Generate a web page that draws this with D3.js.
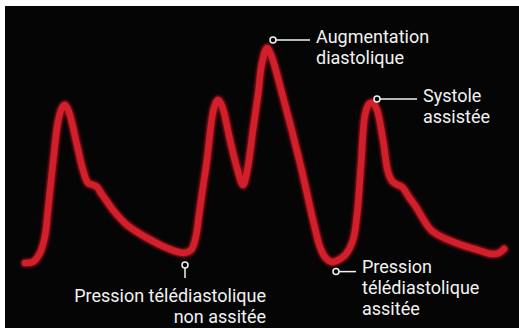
<!DOCTYPE html>
<html><head><meta charset="utf-8">
<script src="https://cdn.jsdelivr.net/npm/d3@7"></script>
<style>html,body{margin:0;padding:0;background:#fff;}svg{display:block;}</style>
</head><body>
<script>
// Time (ms) and pressure (mmHg) samples
const time = [0,40,75,100,115,140,165,185,200,220,260,290,315,340,360,380,405,440,510,610,710,790,830,855,870,890,910,930,945,965,985,1025,1060,1090,1110,1140,1165,1185,1210,1230,1290,1375,1440,1475,1500,1535,1575,1605,1640,1660,1680,1700,1720,1740,1760,1790,1815,1835,1855,1885,1920,1955,2035,2170,2265,2335,2370,2395];
const pressure = [40.9,41.4,45.5,53.2,65.0,86.4,105.0,111.4,112.7,109.5,94.5,83.2,77.3,76.4,75.5,72.7,69.5,65.0,58.2,52.3,47.7,45.5,46.8,53.2,62.7,75.5,87.7,103.6,111.4,115.0,112.3,96.8,84.1,76.4,82.3,101.4,117.3,131.8,138.6,135.5,116.4,86.4,60.5,48.2,43.6,41.4,42.7,45.0,51.4,62.7,85.5,108.2,113.2,113.6,110.5,96.8,82.3,78.2,76.8,75.5,70.9,66.4,55.5,49.5,46.8,45.0,45.5,47.3];

// Annotations: anchor point (time, pressure), label lines, side
const annLabels = [["Augmentation","diastolique"],["Systole","assistée"],["Pression télédiastolique","non assitée"],["Pression","télédiastolique","assitée"]];
const annTime = [1240, 1760, 800, 1555];
const annPressure = [142.3, 115.5, 40.0, 37.0];
const annSide = ["right","right","below","right"];

const W = 519, H = 328;
const x = d3.scaleLinear().domain([0, 2400]).range([25, 505]);
const y = d3.scaleLinear().domain([40, 140]).range([265, 45]);

const svg = d3.select("body").append("svg").attr("width", W).attr("height", H);
svg.append("rect").attr("x",0).attr("y",0).attr("width",W).attr("height",H).attr("fill","#fff");
svg.append("rect").attr("x",5).attr("y",6).attr("width",W-5).attr("height",H-6).attr("fill","#050505");

const pts = time.map((t,i)=>[t, pressure[i]]);
const line = d3.line().x(d=>x(d[0])).y(d=>y(d[1])).curve(d3.curveCatmullRom.alpha(0.5));

const defs = svg.append("defs");
defs.append("filter").attr("id","blur").append("feGaussianBlur").attr("stdDeviation",1.2);

svg.append("path").attr("d", line(pts)).attr("fill","none")
  .attr("stroke","#7d0c14").attr("stroke-width",9.5).attr("stroke-linecap","round").attr("stroke-linejoin","round")
  .attr("filter","url(#blur)");
svg.append("path").attr("d", line(pts)).attr("fill","none")
  .attr("stroke","#d11f2b").attr("stroke-width",6.5).attr("stroke-linecap","round").attr("stroke-linejoin","round");

const fontSize = 18, lh = 21;
const g = svg.append("g").attr("font-family","Roboto, 'Noto Sans', sans-serif").attr("font-size",fontSize).attr("fill","#f2f2f2");

annLabels.forEach((lines,i)=>{
  const cx = x(annTime[i]), cy = y(annPressure[i]);
  if (annSide[i] === "right") {
    const lineLen = i===0 ? 34 : (i===1 ? 37 : 17);
    svg.append("line").attr("x1",cx+3).attr("y1",cy).attr("x2",cx+3+lineLen).attr("y2",cy)
      .attr("stroke","#f2f2f2").attr("stroke-width",1.5);
    const tx = cx + 3 + lineLen + 6;
    const t = g.append("text").attr("x",tx).attr("y",cy);
    lines.forEach((s,k)=>{
      t.append("tspan").attr("x",tx).attr("dy", k===0 ? "0.32em" : lh).text(s);
    });
    t.attr("transform", `translate(0,${i===3? -4 : -3})`);
  } else {
    svg.append("line").attr("x1",cx).attr("y1",cy+3).attr("x2",cx).attr("y2",cy+13)
      .attr("stroke","#f2f2f2").attr("stroke-width",1.5);
    const tx = cx + 81, ty = cy + 37;
    const t = g.append("text").attr("text-anchor","end");
    lines.forEach((s,k)=>{
      t.append("tspan").attr("x",tx).attr("y", ty + k*lh).text(s);
    });
  }
  svg.append("circle").attr("cx",cx).attr("cy",cy).attr("r",3)
    .attr("fill","#050505").attr("stroke","#f2f2f2").attr("stroke-width",1.5);
});
</script>
</body></html>
